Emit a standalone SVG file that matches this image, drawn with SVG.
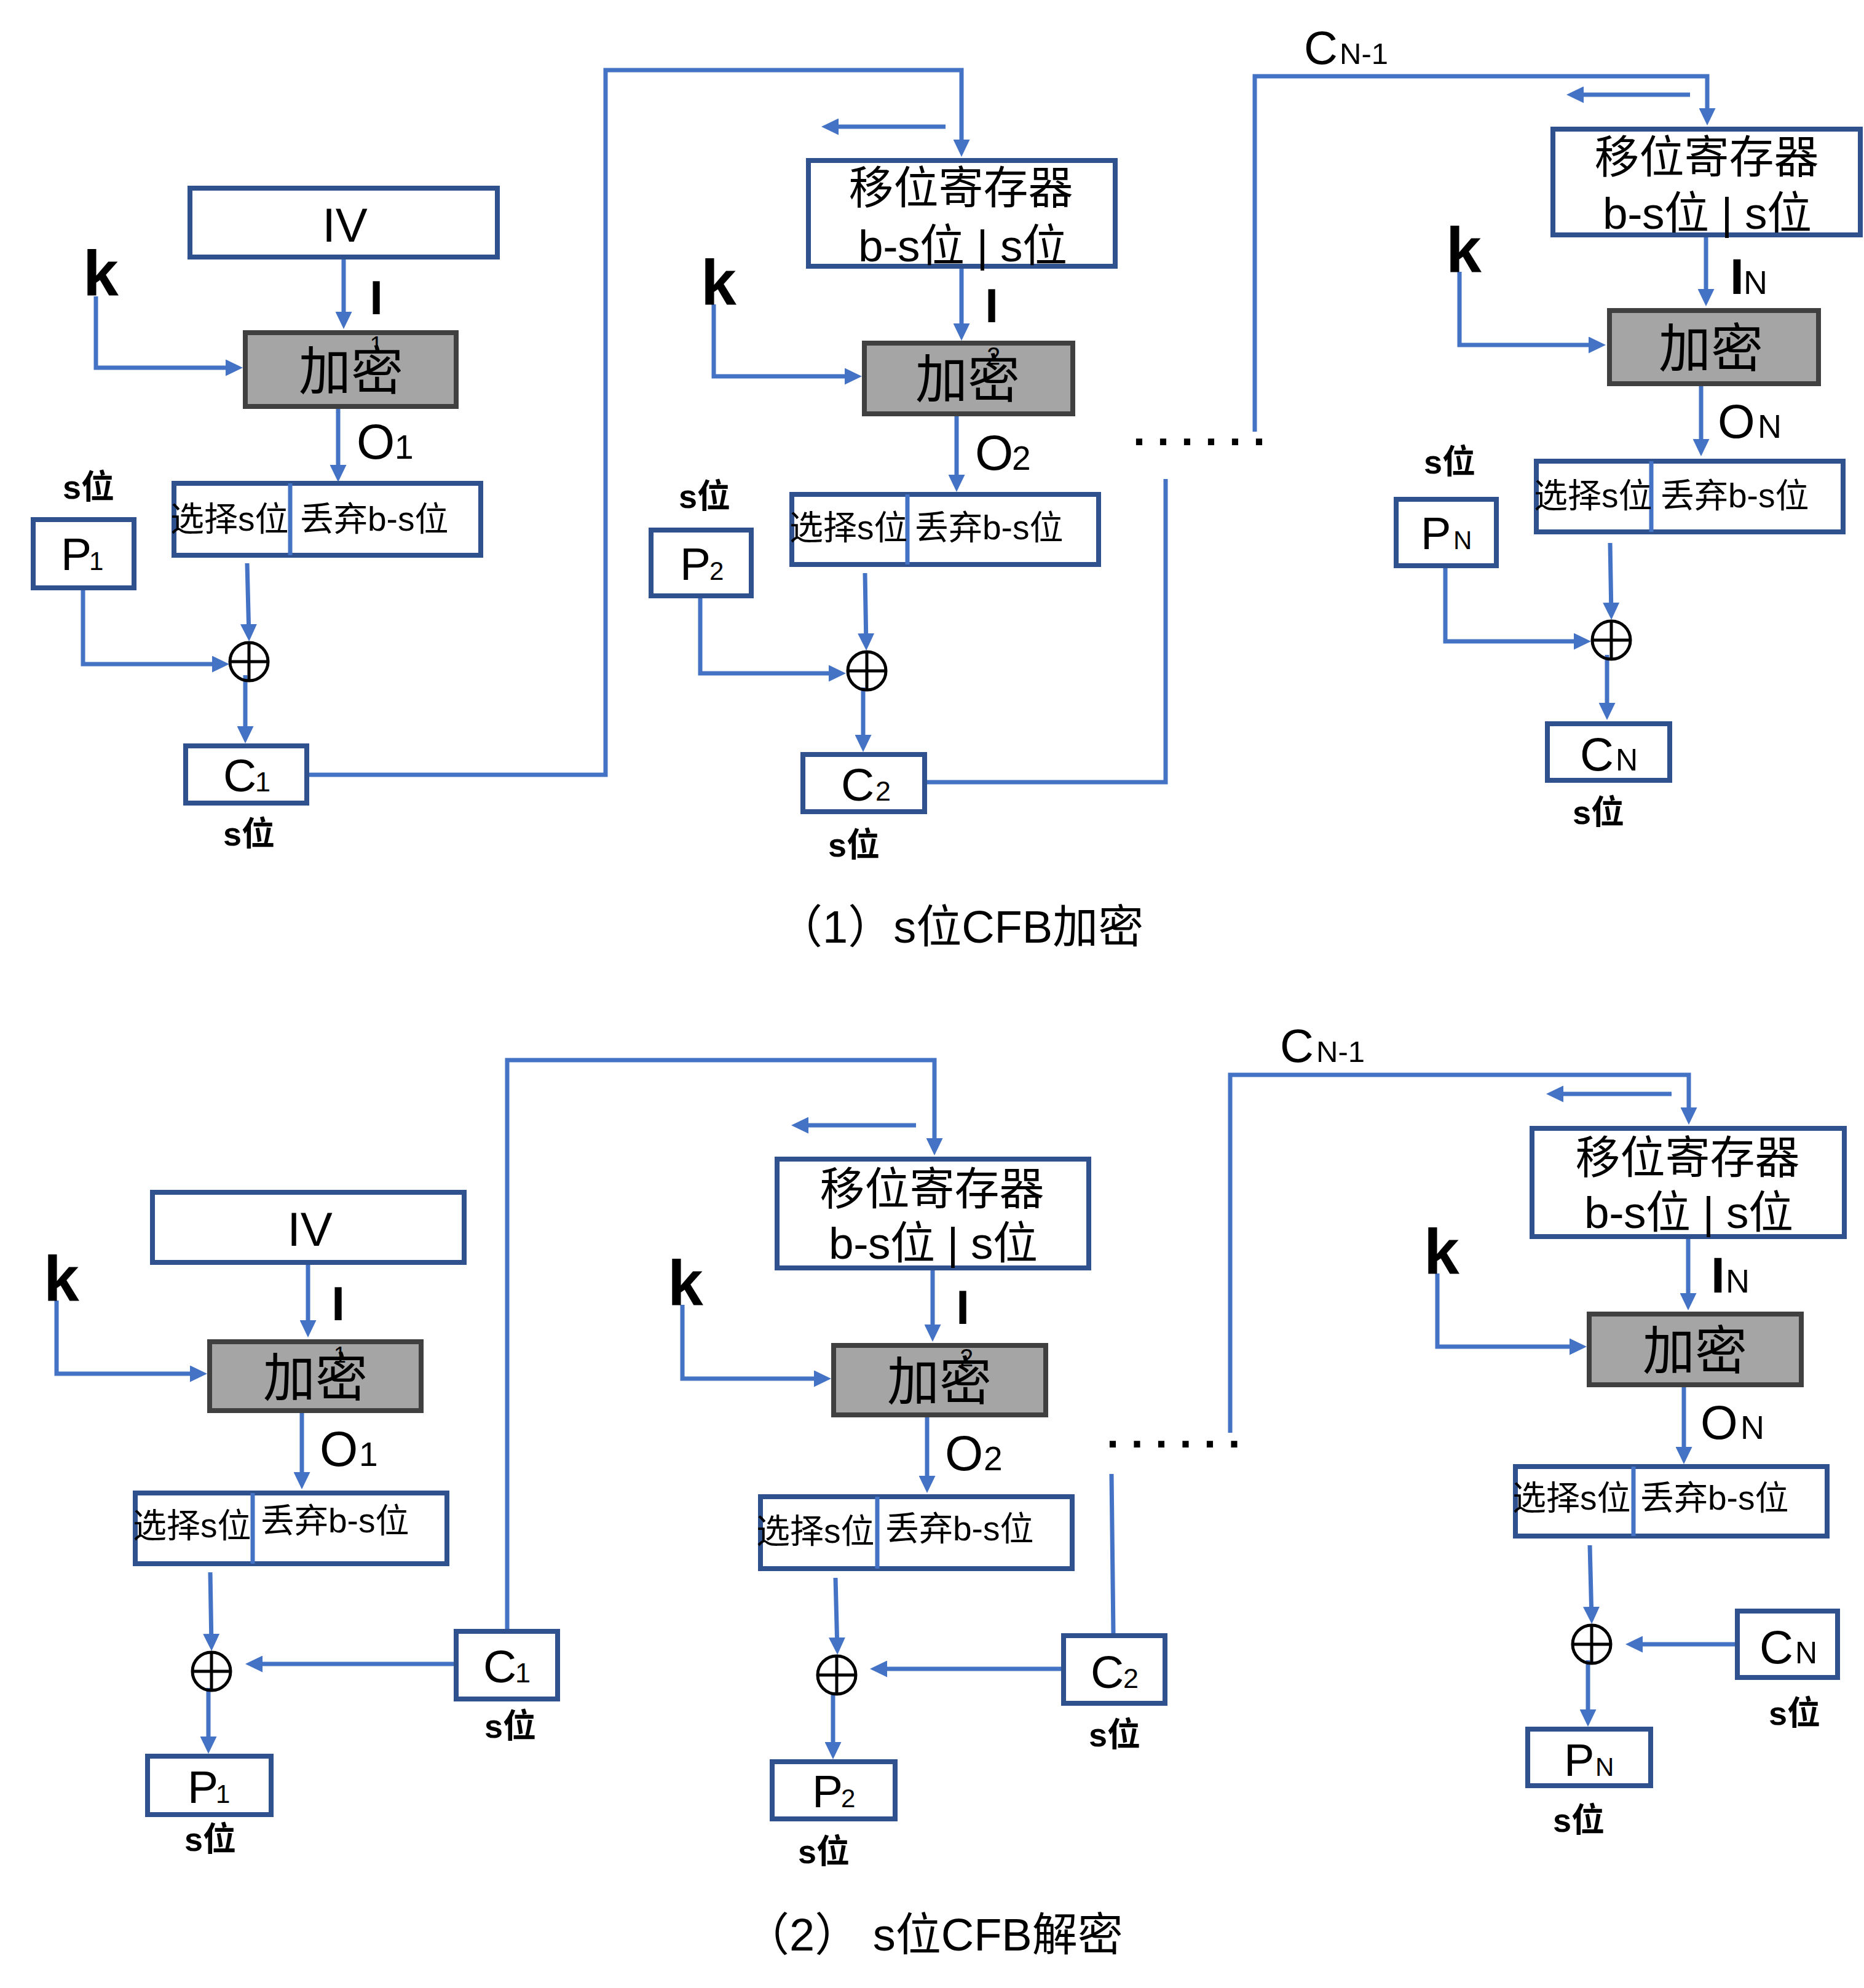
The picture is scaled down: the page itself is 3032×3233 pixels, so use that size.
<svg xmlns="http://www.w3.org/2000/svg" width="3032" height="3233" viewBox="0 0 3032 3233">
<defs>
<style>
.box{fill:#fff;stroke:#2F528F;stroke-width:8}
.enc{fill:#A5A5A5;stroke:#404040;stroke-width:8}
.ln{fill:none;stroke:#4472C4;stroke-width:7}
.ar{marker-end:url(#ah)}
.dv{stroke:#4472C4;stroke-width:7}
.xc{fill:none;stroke:#000;stroke-width:5}
text{font-family:"Liberation Sans","Noto Sans CJK SC",sans-serif;fill:#000}
.lbl{font-size:78px}
.big{font-size:85px}
.sr{font-size:73px}
.sel{font-size:55px}
.sb{font-size:54px;font-weight:bold}
.k{font-size:104px;font-weight:bold}
.ib{font-size:78px;font-weight:bold}
.cap{font-size:74px}
.dots{font-size:72px;font-weight:bold;letter-spacing:19px}
.mid{text-anchor:middle}
</style>
<marker id="ah" viewBox="0 0 28 27" markerWidth="28" markerHeight="27" refX="20" refY="13.5" orient="auto" markerUnits="userSpaceOnUse"><path d="M0,0 L28,13.5 L0,27 Z" fill="#4472C4"/></marker>
<g id="xorsym"><circle r="31" class="xc"/><path d="M0,-31V31M-31,0H31" class="xc"/></g>
</defs>
<rect width="3032" height="3233" fill="#fff"/>

<g id="connectors">
<path class="ln ar" d="M559,422 V527"/>
<path class="ln ar" d="M156,482 V598 H387"/>
<path class="ln ar" d="M550,663 V776"/>
<path class="ln ar" d="M135,960 V1080 H365"/>
<path class="ln ar" d="M402,916 L405,1035"/>
<path class="ln ar" d="M399,1098 V1201"/>
<path class="ln ar" d="M503,1260 H985 V114 H1564 V247"/>
<path class="ln ar" d="M1538,206 H1344"/>
<path class="ln ar" d="M1564,437 V546"/>
<path class="ln ar" d="M1161,495 V612 H1394"/>
<path class="ln ar" d="M1556,677 V792"/>
<path class="ln ar" d="M1139,973 V1095 H1368"/>
<path class="ln ar" d="M1407,932 L1409,1050"/>
<path class="ln ar" d="M1404,1118 V1215"/>
<path class="ln" d="M1508,1272 H1896 V779"/>
<path class="ln ar" d="M2041,702 V124 H2777 V196"/>
<path class="ln ar" d="M2749,154 H2556"/>
<path class="ln ar" d="M2775,386 V490"/>
<path class="ln ar" d="M2374,442 V561 H2604"/>
<path class="ln ar" d="M2767,628 V734"/>
<path class="ln ar" d="M2351,924 V1043 H2580"/>
<path class="ln ar" d="M2619,883 L2621,1000"/>
<path class="ln ar" d="M2614,1065 V1163"/>

<path class="ln ar" d="M501,2057 V2167"/>
<path class="ln ar" d="M92,2115 V2234 H329"/>
<path class="ln ar" d="M491,2298 V2414"/>
<path class="ln ar" d="M342,2557 L344,2677"/>
<path class="ln ar" d="M339,2745 V2844"/>
<path class="ln ar" d="M738,2706 H407"/>
<path class="ln ar" d="M825,2649 V1724 H1520 V1871"/>
<path class="ln ar" d="M1490,1830 H1295"/>
<path class="ln ar" d="M1517,2066 V2174"/>
<path class="ln ar" d="M1110,2122 V2242 H1344"/>
<path class="ln ar" d="M1508,2305 V2420"/>
<path class="ln ar" d="M1359,2566 L1362,2683"/>
<path class="ln ar" d="M1355,2752 V2853"/>
<path class="ln ar" d="M1726,2714 H1423"/>
<path class="ln" d="M1811,2656 L1808,2397"/>
<path class="ln ar" d="M2001,2330 V1748 H2747 V1821"/>
<path class="ln ar" d="M2719,1779 H2523"/>
<path class="ln ar" d="M2746,2015 V2123"/>
<path class="ln ar" d="M2338,2071 V2190 H2573"/>
<path class="ln ar" d="M2739,2256 V2373"/>
<path class="ln ar" d="M2586,2513 L2589,2633"/>
<path class="ln ar" d="M2583,2700 V2800"/>
<path class="ln ar" d="M2822,2674 H2652"/>
</g>

<!-- Encryption block 1 -->
<g id="e1-iv"><rect class="box" x="309" y="306" width="500" height="112"/><text class="lbl mid" x="561" y="393">IV</text></g>
<g id="e1-i"><text class="ib mid" x="612" y="511">I</text></g>
<g id="e1-k"><text class="k mid" x="164" y="480">k</text></g>
<g id="e1-enc"><rect class="enc" x="399" y="541" width="343" height="120"/><text class="big mid" x="571" y="634">加密</text><text class="mid" x="612" y="574" font-size="38">1</text></g>
<g id="e1-o"><text y="746"><tspan x="580" font-size="80">O</tspan><tspan x="642" font-size="55">1</tspan></text></g>
<g id="e1-sel"><rect class="box" x="283" y="786" width="499" height="117"/><line class="dv" x1="472" y1="786" x2="472" y2="903"/><text class="sel" x="277" y="863">选择s位</text><text class="sel" x="488" y="863">丢弃b-s位</text></g>
<g id="e1-p"><text class="sb mid" x="144" y="811">s位</text><rect class="box" x="54" y="845" width="164" height="111"/><text y="927"><tspan x="99" font-size="75">P</tspan><tspan x="145" font-size="42">1</tspan></text></g>
<g id="e1-xor"><use href="#xorsym" x="405" y="1076"/></g>
<g id="e1-c"><rect class="box" x="302" y="1213" width="197" height="93"/><text y="1287"><tspan x="363" font-size="75">C</tspan><tspan x="415" font-size="45">1</tspan></text><text class="sb mid" x="405" y="1375">s位</text></g>

<!-- Encryption block 2 -->
<g id="e2-sr"><rect class="box" x="1315" y="261" width="499" height="172"/><text class="sr mid" x="1563" y="331">移位寄存器</text><text class="sr mid" x="1566" y="425" textLength="340" lengthAdjust="spacing">b-s位 | s位</text></g>
<g id="e2-i"><text class="ib mid" x="1613" y="524">I</text></g>
<g id="e2-k"><text class="k mid" x="1169" y="495">k</text></g>
<g id="e2-enc"><rect class="enc" x="1406" y="558" width="339" height="115"/><text class="big mid" x="1574" y="647">加密</text><text class="mid" x="1616" y="593" font-size="40">2</text></g>
<g id="e2-o"><text y="764"><tspan x="1586" font-size="80">O</tspan><tspan x="1646" font-size="55">2</tspan></text></g>
<g id="e2-sel"><rect class="box" x="1288" y="804" width="499" height="114"/><line class="dv" x1="1476" y1="804" x2="1476" y2="918"/><text class="sel" x="1284" y="877">选择s位</text><text class="sel" x="1488" y="877">丢弃b-s位</text></g>
<g id="e2-p"><text class="sb mid" x="1146" y="826">s位</text><rect class="box" x="1059" y="862" width="163" height="107"/><text y="943"><tspan x="1106" font-size="75">P</tspan><tspan x="1154" font-size="42">2</tspan></text></g>
<g id="e2-xor"><use href="#xorsym" x="1410" y="1091"/></g>
<g id="e2-c"><rect class="box" x="1306" y="1227" width="198" height="93"/><text y="1302"><tspan x="1368" font-size="75">C</tspan><tspan x="1424" font-size="45">2</tspan></text><text class="sb mid" x="1389" y="1393">s位</text></g>
<g id="e-dots"><text class="dots" x="1843" y="724">......</text></g>

<!-- Encryption block N -->
<g id="en-cn1"><text y="104"><tspan x="2121" font-size="76">C</tspan><tspan x="2179" font-size="49">N-1</tspan></text></g>
<g id="en-sr"><rect class="box" x="2526" y="210" width="500" height="172"/><text class="sr mid" x="2776" y="281">移位寄存器</text><text class="sr mid" x="2777" y="372" textLength="340" lengthAdjust="spacing">b-s位 | s位</text></g>
<g id="en-i"><text y="478"><tspan x="2814" font-size="82" font-weight="bold">I</tspan><tspan x="2836" font-size="54">N</tspan></text></g>
<g id="en-k"><text class="k mid" x="2381" y="442">k</text></g>
<g id="en-enc"><rect class="enc" x="2618" y="505" width="340" height="119"/><text class="big mid" x="2783" y="597">加密</text></g>
<g id="en-o"><text y="712"><tspan x="2794" font-size="78">O</tspan><tspan x="2859" font-size="54">N</tspan></text></g>
<g id="en-sel"><rect class="box" x="2499" y="750" width="499" height="115"/><line class="dv" x1="2686" y1="750" x2="2686" y2="865"/><text class="sel" x="2495" y="825">选择s位</text><text class="sel" x="2701" y="825">丢弃b-s位</text></g>
<g id="en-p"><text class="sb mid" x="2358" y="770">s位</text><rect class="box" x="2271" y="812" width="163" height="108"/><text y="893"><tspan x="2311" font-size="74">P</tspan><tspan x="2364" font-size="42">N</tspan></text></g>
<g id="en-xor"><use href="#xorsym" x="2621" y="1041"/></g>
<g id="en-c"><rect class="box" x="2517" y="1177" width="199" height="92"/><text y="1253"><tspan x="2570" font-size="76">C</tspan><tspan x="2628" font-size="50">N</tspan></text><text class="sb mid" x="2600" y="1340">s位</text></g>

<g id="caption1"><text class="cap" x="1264" y="1533">（1）s位CFB加密</text></g>

<!-- Decryption block 1 -->
<g id="d1-iv"><rect class="box" x="248" y="1939" width="507" height="114"/><text class="lbl mid" x="504" y="2026">IV</text></g>
<g id="d1-i"><text class="ib mid" x="550" y="2147">I</text></g>
<g id="d1-k"><text class="k mid" x="100" y="2115">k</text></g>
<g id="d1-enc"><rect class="enc" x="341" y="2182" width="344" height="112"/><text class="big mid" x="513" y="2271">加密</text><text class="mid" x="553" y="2216" font-size="36">1</text></g>
<g id="d1-o"><text y="2384"><tspan x="520" font-size="80">O</tspan><tspan x="584" font-size="55">1</tspan></text></g>
<g id="d1-sel"><rect class="box" x="220" y="2428" width="507" height="115"/><line class="dv" x1="411" y1="2428" x2="411" y2="2543"/><text class="sel" x="216" y="2500">选择s位</text><text class="sel" x="424" y="2492">丢弃b-s位</text></g>
<g id="d1-xor"><use href="#xorsym" x="344" y="2718"/></g>
<g id="d1-p"><rect class="box" x="240" y="2856" width="201" height="95"/><text y="2932"><tspan x="305" font-size="75">P</tspan><tspan x="351" font-size="42">1</tspan></text><text class="sb mid" x="342" y="3010">s位</text></g>
<g id="d1-c"><rect class="box" x="742" y="2653" width="165" height="110"/><text y="2736"><tspan x="786" font-size="75">C</tspan><tspan x="838" font-size="45">1</tspan></text><text class="sb mid" x="830" y="2826">s位</text></g>

<!-- Decryption block 2 -->
<g id="d2-sr"><rect class="box" x="1264" y="1885" width="507" height="177"/><text class="sr mid" x="1516" y="1959">移位寄存器</text><text class="sr mid" x="1518" y="2047" textLength="340" lengthAdjust="spacing">b-s位 | s位</text></g>
<g id="d2-i"><text class="ib mid" x="1566" y="2153">I</text></g>
<g id="d2-k"><text class="k mid" x="1115" y="2122">k</text></g>
<g id="d2-enc"><rect class="enc" x="1356" y="2188" width="345" height="113"/><text class="big mid" x="1528" y="2277">加密</text><text class="mid" x="1572" y="2222" font-size="40">2</text></g>
<g id="d2-o"><text y="2391"><tspan x="1537" font-size="80">O</tspan><tspan x="1600" font-size="55">2</tspan></text></g>
<g id="d2-sel"><rect class="box" x="1237" y="2434" width="507" height="117"/><line class="dv" x1="1427" y1="2434" x2="1427" y2="2551"/><text class="sel" x="1230" y="2509">选择s位</text><text class="sel" x="1440" y="2505">丢弃b-s位</text></g>
<g id="d2-xor"><use href="#xorsym" x="1361" y="2724"/></g>
<g id="d2-p"><rect class="box" x="1256" y="2865" width="200" height="93"/><text y="2939"><tspan x="1321" font-size="75">P</tspan><tspan x="1368" font-size="42">2</tspan></text><text class="sb mid" x="1340" y="3030">s位</text></g>
<g id="d2-c"><rect class="box" x="1730" y="2660" width="165" height="110"/><text y="2745"><tspan x="1774" font-size="75">C</tspan><tspan x="1827" font-size="45">2</tspan></text><text class="sb mid" x="1813" y="2840">s位</text></g>
<g id="d-dots"><text class="dots" x="1800" y="2354" style="letter-spacing:19.5px">......</text></g>

<!-- Decryption block N -->
<g id="dn-cn1"><text y="1727"><tspan x="2082" font-size="76">C</tspan><tspan x="2141" font-size="49">N-1</tspan></text></g>
<g id="dn-sr"><rect class="box" x="2492" y="1835" width="508" height="176"/><text class="sr mid" x="2745" y="1908">移位寄存器</text><text class="sr mid" x="2747" y="1997" textLength="340" lengthAdjust="spacing">b-s位 | s位</text></g>
<g id="dn-i"><text y="2102"><tspan x="2783" font-size="82" font-weight="bold">I</tspan><tspan x="2807" font-size="54">N</tspan></text></g>
<g id="dn-k"><text class="k mid" x="2345" y="2071">k</text></g>
<g id="dn-enc"><rect class="enc" x="2585" y="2137" width="345" height="115"/><text class="big mid" x="2757" y="2227">加密</text></g>
<g id="dn-o"><text y="2340"><tspan x="2766" font-size="78">O</tspan><tspan x="2831" font-size="54">N</tspan></text></g>
<g id="dn-sel"><rect class="box" x="2465" y="2385" width="507" height="113"/><line class="dv" x1="2657" y1="2385" x2="2657" y2="2498"/><text class="sel" x="2460" y="2455">选择s位</text><text class="sel" x="2668" y="2455">丢弃b-s位</text></g>
<g id="dn-xor"><use href="#xorsym" x="2589" y="2674"/></g>
<g id="dn-p"><rect class="box" x="2485" y="2812" width="200" height="92"/><text y="2888"><tspan x="2544" font-size="74">P</tspan><tspan x="2595" font-size="42">N</tspan></text><text class="sb mid" x="2568" y="2979">s位</text></g>
<g id="dn-c"><rect class="box" x="2826" y="2620" width="163" height="108"/><text y="2705"><tspan x="2862" font-size="76">C</tspan><tspan x="2920" font-size="50">N</tspan></text><text class="sb mid" x="2919" y="2805">s位</text></g>

<g id="caption2"><text class="cap" x="1210" y="3172">（2） s位CFB解密</text></g>
</svg>
